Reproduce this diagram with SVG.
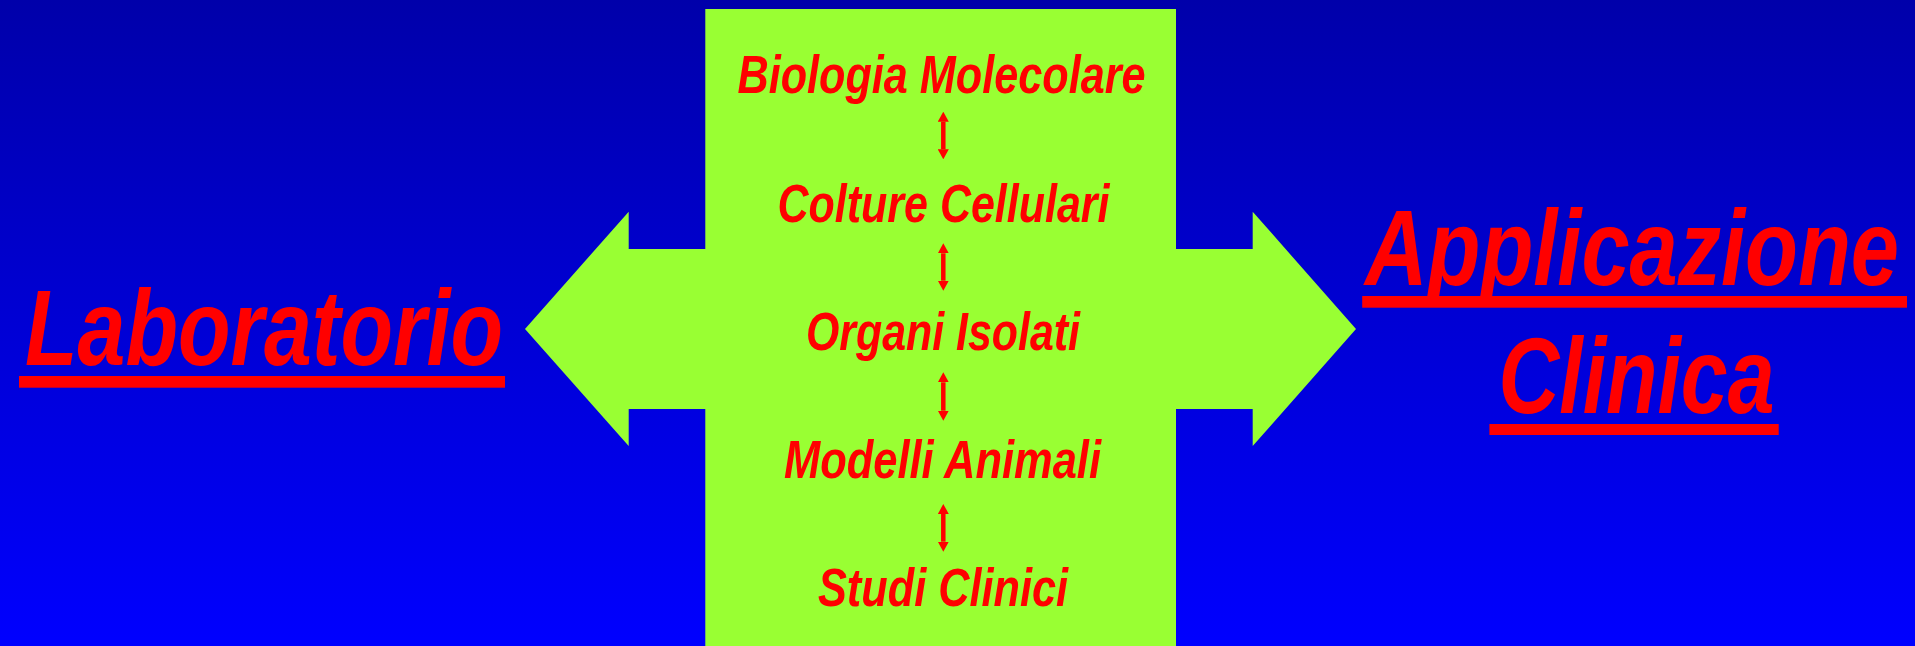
<svg xmlns="http://www.w3.org/2000/svg" width="1915" height="646" viewBox="0 0 1915 646">
<defs>
<linearGradient id="bg" x1="0" y1="0" x2="0" y2="1">
<stop offset="0" stop-color="#0000AA"/>
<stop offset="1" stop-color="#0000FF"/>
</linearGradient>
<marker id="ah" viewBox="0 0 10 11" markerUnits="userSpaceOnUse" markerWidth="10" markerHeight="11" refX="0" refY="5.5" orient="auto-start-reverse">
<path d="M0,0 L10,5.5 L0,11 z" fill="#FF0000"/>
</marker>
<style>
.t{font-family:"Liberation Sans",Arial,sans-serif;font-weight:bold;font-style:italic;fill:#FF0000;text-anchor:middle}
.m{font-size:54px}
.b{font-size:107px}
.ul{fill:#FF0000}
.g{fill:#99FF33}
.c{stroke:#FF0000;stroke-width:4.5;fill:none}
</style>
</defs>
<rect width="1915" height="646" fill="url(#bg)"/>
<g id="shape">
<polygon class="g" points="705.3,9 1176,9 1176,249 1252.7,249 1252.7,211.7 1356,329 1252.7,446 1252.7,409 1176,409 1176,646 705.3,646 705.3,409 628.7,409 628.7,446 525,329 628.7,211.7 628.7,249 705.3,249"/>
</g>
<g id="laboratorio">
<text class="t b" x="264" y="365.3" textLength="478" lengthAdjust="spacingAndGlyphs">Laboratorio</text>
<rect class="ul" x="19" y="376" width="486" height="11.7"/>
</g>
<g id="applicazione-clinica">
<text class="t b" x="1632" y="284.7" textLength="534" lengthAdjust="spacingAndGlyphs">Applicazione</text>
<rect class="ul" x="1362.2" y="296" width="544.8" height="11.7"/>
<text class="t b" x="1636.5" y="412.7" textLength="276" lengthAdjust="spacingAndGlyphs">Clinica</text>
<rect class="ul" x="1489.4" y="424" width="289.3" height="11"/>
</g>
<g id="biologia">
<text class="t m" x="941.5" y="93.3" textLength="408" lengthAdjust="spacingAndGlyphs">Biologia Molecolare</text>
</g>
<g id="colture">
<text class="t m" x="943.5" y="222" textLength="332" lengthAdjust="spacingAndGlyphs">Colture Cellulari</text>
</g>
<g id="organi">
<text class="t m" x="943" y="350" textLength="274" lengthAdjust="spacingAndGlyphs">Organi Isolati</text>
</g>
<g id="modelli">
<text class="t m" x="942.5" y="478.3" textLength="317" lengthAdjust="spacingAndGlyphs">Modelli Animali</text>
</g>
<g id="studi">
<text class="t m" x="943" y="606" textLength="250" lengthAdjust="spacingAndGlyphs">Studi Clinici</text>
</g>
<g id="connectors">
<line class="c" x1="943.3" y1="121.7" x2="943.3" y2="149.3" marker-start="url(#ah)" marker-end="url(#ah)"/>
<line class="c" x1="943.3" y1="253.3" x2="943.3" y2="280.7" marker-start="url(#ah)" marker-end="url(#ah)"/>
<line class="c" x1="943.3" y1="382.3" x2="943.3" y2="410.7" marker-start="url(#ah)" marker-end="url(#ah)"/>
<line class="c" x1="943.3" y1="514" x2="943.3" y2="541.7" marker-start="url(#ah)" marker-end="url(#ah)"/>
</g>
</svg>
